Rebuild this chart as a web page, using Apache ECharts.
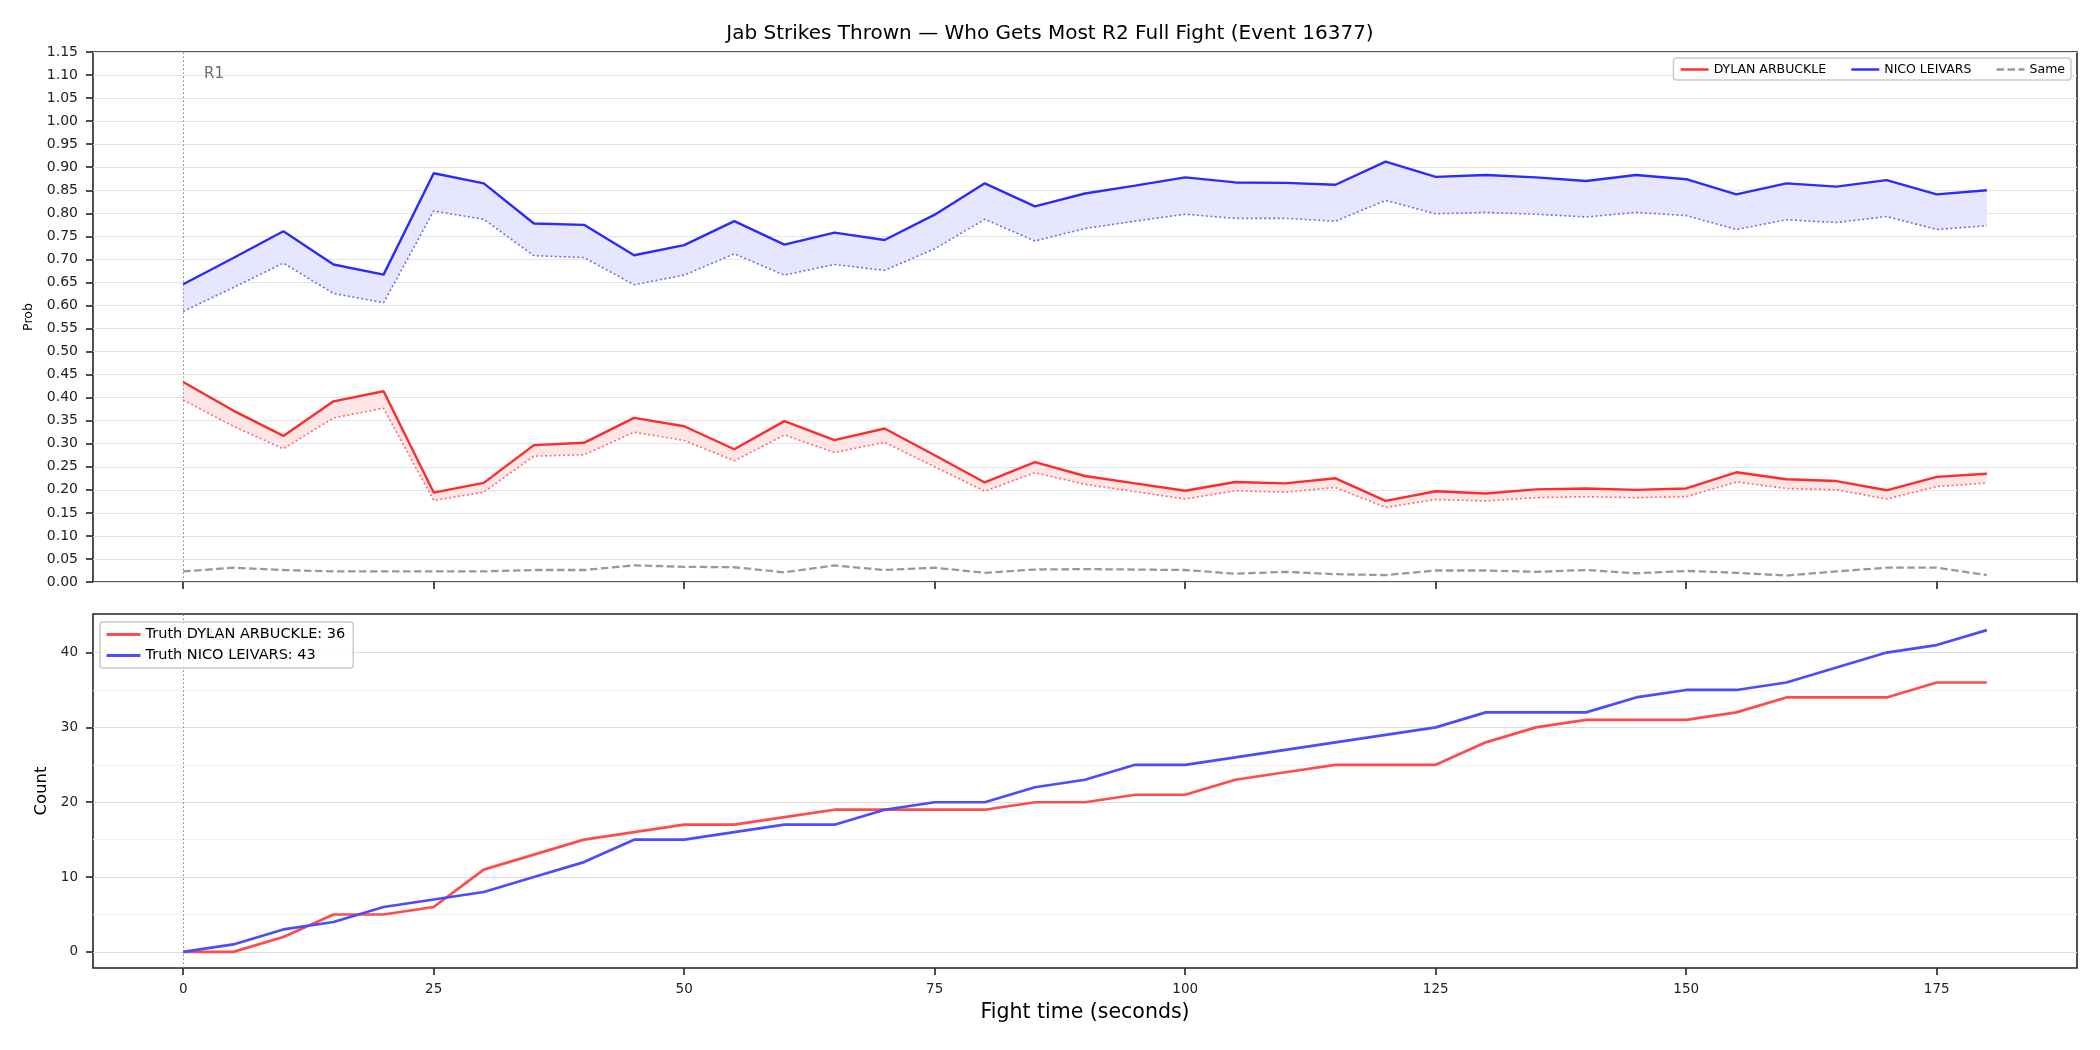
<!DOCTYPE html>
<html>
<head>
<meta charset="utf-8">
<script src="https://cdn.jsdelivr.net/npm/echarts@6/dist/echarts.min.js"></script>
<style>
  html, body { margin: 0; padding: 0; background: #fff; }
  #chart { width: 2100px; height: 1050px; }
</style>
</head>
<body>
<div id="chart"></div>
<script>
// fight time (s)
const times = [0, 5, 10, 15, 20, 25, 30, 35, 40, 45, 50, 55, 60, 65, 70, 75, 80, 85, 90,
  95, 100, 105, 110, 115, 120, 125, 130, 135, 140, 145, 150, 155, 160, 165, 170, 175, 180]

// win probability, upper line and lower (dotted) bound
const nicoProb = [0.646, 0.703, 0.761, 0.689, 0.667, 0.887, 0.865, 0.778, 0.775, 0.709, 0.731,
  0.783, 0.732, 0.758, 0.742, 0.797, 0.865, 0.815, 0.843, 0.860, 0.878, 0.867, 0.866, 0.862,
  0.912, 0.879, 0.883, 0.878, 0.870, 0.883, 0.874, 0.841, 0.865, 0.858, 0.872, 0.841, 0.850]
const nicoLow = [0.587, 0.639, 0.692, 0.626, 0.606, 0.805, 0.787, 0.708, 0.704, 0.645, 0.666,
  0.712, 0.666, 0.689, 0.676, 0.723, 0.787, 0.740, 0.767, 0.783, 0.798, 0.789, 0.789, 0.783,
  0.828, 0.799, 0.802, 0.798, 0.792, 0.802, 0.795, 0.765, 0.786, 0.780, 0.793, 0.765, 0.773]
const dylanProb = [0.434, 0.372, 0.317, 0.392, 0.414, 0.194, 0.215, 0.297, 0.302, 0.356, 0.338,
  0.288, 0.349, 0.308, 0.333, 0.275, 0.216, 0.260, 0.230, 0.214, 0.198, 0.217, 0.214, 0.225,
  0.176, 0.197, 0.192, 0.201, 0.203, 0.200, 0.203, 0.238, 0.223, 0.219, 0.199, 0.228, 0.235]
const dylanLow = [0.395, 0.338, 0.289, 0.356, 0.377, 0.177, 0.195, 0.273, 0.276, 0.325, 0.307,
  0.263, 0.319, 0.281, 0.303, 0.250, 0.197, 0.237, 0.212, 0.196, 0.180, 0.198, 0.195, 0.205,
  0.162, 0.179, 0.176, 0.183, 0.185, 0.183, 0.185, 0.217, 0.203, 0.200, 0.180, 0.207, 0.215]
const sameProb = [0.023, 0.031, 0.026, 0.023, 0.023, 0.023, 0.023, 0.026, 0.026, 0.036, 0.033,
  0.032, 0.021, 0.036, 0.026, 0.031, 0.020, 0.027, 0.028, 0.027, 0.026, 0.018, 0.022, 0.017,
  0.015, 0.025, 0.025, 0.022, 0.026, 0.019, 0.024, 0.020, 0.014, 0.023, 0.031, 0.031, 0.015]

// cumulative truth counts
const dylanCount = [0, 0, 2, 5, 5, 6, 11, 13, 15, 16, 17, 17, 18, 19, 19, 19, 19, 20, 20, 21, 21,
  23, 24, 25, 25, 25, 28, 30, 31, 31, 31, 32, 34, 34, 34, 36, 36]
const nicoCount = [0, 1, 3, 4, 6, 7, 8, 10, 12, 15, 15, 16, 17, 17, 19, 20, 20, 22, 23, 25, 25,
  26, 27, 28, 29, 30, 32, 32, 32, 34, 35, 35, 36, 38, 40, 41, 43]

// axis ticks
const xTicks = [0, 25, 50, 75, 100, 125, 150, 175]
const countTicks = [0, 10, 20, 30, 40]
const countMinor = [5, 15, 25, 35]

const RED = '#ff2b2b'
const BLUE = '#2b2bff'
const FONT = 'DejaVu Sans'

const pairs = (ys) => times.map((t, i) => [t, ys[i]])

const chart = echarts.init(document.getElementById('chart'))

const tickStyle = { show: true, inside: false, length: 7, lineStyle: { color: '#222', width: 1.6 } }
const noLine = { show: false, onZero: false }

// shaded band between the lower bound and the line, drawn as one polygon
const band = (low, up, color) => ({
  type: 'custom', xAxisIndex: 0, yAxisIndex: 0, silent: true, z: 1,
  data: [[0, 0]],
  renderItem: (params, api) => {
    const top = times.map((t, i) => api.coord([t, up[i]]))
    const bottom = times.map((t, i) => api.coord([t, low[i]])).reverse()
    return { type: 'polygon', shape: { points: top.concat(bottom) }, style: { fill: color } }
  }
})

const r1Line = {
  silent: true, symbol: ['none', 'none'], label: { show: false }, z: 2,
  lineStyle: { color: '#888', type: [1.5, 2.5], width: 1 },
  data: [{ xAxis: 0 }]
}

const option = {
  backgroundColor: '#fff',
  animation: false,
  textStyle: { fontFamily: FONT },
  title: {
    text: 'Jab Strikes Thrown — Who Gets Most R2 Full Fight (Event 16377)',
    left: 'center', top: 19,
    textStyle: { fontFamily: FONT, fontSize: 20, fontWeight: 'normal', color: '#000' }
  },
  legend: [
    {
      data: ['DYLAN ARBUCKLE', 'NICO LEIVARS', 'Same'],
      right: 29, top: 58, orient: 'horizontal',
      itemWidth: 28, itemHeight: 10, itemGap: 24,
      padding: [5, 6, 4, 6],
      itemStyle: { opacity: 0 },
      lineStyle: { width: 2.4 },
      backgroundColor: 'rgba(255,255,255,0.8)', borderColor: '#cccccc', borderWidth: 1.5, borderRadius: 3,
      textStyle: { fontFamily: FONT, fontSize: 12.5, color: '#000' }
    },
    {
      data: ['Truth DYLAN ARBUCKLE: 36', 'Truth NICO LEIVARS: 43'],
      left: 100, top: 622, orient: 'vertical',
      itemWidth: 34, itemHeight: 10, itemGap: 6,
      padding: [5, 8, 5, 5],
      itemStyle: { opacity: 0 },
      lineStyle: { width: 3 },
      backgroundColor: 'rgba(255,255,255,0.8)', borderColor: '#cccccc', borderWidth: 1.5, borderRadius: 3,
      textStyle: { fontFamily: FONT, fontSize: 14.5, color: '#000' },
      z: 6
    }
  ],
  grid: [
    { left: 93, top: 52, width: 1984, height: 530, show: true, borderColor: '#222', borderWidth: 1.6 },
    { left: 93, top: 614, width: 1984, height: 354, show: true, borderColor: '#222', borderWidth: 1.6 }
  ],
  xAxis: [
    {
      gridIndex: 0, type: 'value', min: -9, max: 189,
      axisLine: noLine,
      axisTick: Object.assign({ customValues: xTicks }, tickStyle),
      axisLabel: { show: false },
      splitLine: { show: false }
    },
    {
      gridIndex: 1, type: 'value', min: -9, max: 189,
      name: 'Fight time (seconds)', nameLocation: 'middle', nameGap: 34,
      nameTextStyle: { fontFamily: FONT, fontSize: 20.5, color: '#000' },
      axisLine: noLine,
      axisTick: Object.assign({ customValues: xTicks }, tickStyle),
      axisLabel: { customValues: xTicks, margin: 14, fontSize: 13.5, color: '#222', fontFamily: FONT },
      splitLine: { show: false }
    }
  ],
  yAxis: [
    {
      gridIndex: 0, type: 'value', min: 0, max: 1.15, interval: 0.05,
      name: 'Prob', nameLocation: 'middle', nameGap: 58,
      nameTextStyle: { fontFamily: FONT, fontSize: 12.5, color: '#000' },
      axisLine: noLine,
      axisTick: tickStyle,
      axisLabel: {
        margin: 15, fontSize: 14, color: '#222', fontFamily: FONT,
        formatter: (v) => v.toFixed(2)
      },
      splitLine: { show: true, lineStyle: { color: '#e4e4e4', width: 1 } }
    },
    {
      gridIndex: 1, type: 'value', min: -2.15, max: 45.15,
      name: 'Count', nameLocation: 'middle', nameGap: 42,
      nameTextStyle: { fontFamily: FONT, fontSize: 16.5, color: '#000' },
      axisLine: noLine,
      axisTick: Object.assign({ customValues: countTicks }, tickStyle),
      axisLabel: { customValues: countTicks, margin: 15, fontSize: 13.5, color: '#222', fontFamily: FONT },
      splitLine: { show: false }
    }
  ],
  graphic: [
    {
      type: 'text', left: 204, top: 67, z: 10,
      style: { text: 'R1', fontFamily: FONT, fontSize: 15, fill: '#6e6e6e' }
    },
    {
      type: 'text', left: 204, top: 629, z: 1,
      style: { text: 'R1', fontFamily: FONT, fontSize: 15, fill: '#6e6e6e' }
    }
  ],
  series: [
    band(nicoLow, nicoProb, '#e6e6ff'),
    band(dylanLow, dylanProb, '#ffe6e6'),
    {
      name: 'nico low', type: 'line', data: pairs(nicoLow), symbol: 'none', z: 3, silent: true,
      lineStyle: { color: '#6b6bff', width: 1.6, type: [2, 2.5] }
    },
    {
      name: 'dylan low', type: 'line', data: pairs(dylanLow), symbol: 'none', z: 3, silent: true,
      lineStyle: { color: '#ff6b6b', width: 1.6, type: [2, 2.5] }
    },
    {
      name: 'DYLAN ARBUCKLE', type: 'line', data: pairs(dylanProb), symbol: 'none', z: 4,
      itemStyle: { color: RED },
      lineStyle: { color: RED, width: 2.4 },
      markLine: r1Line
    },
    {
      name: 'NICO LEIVARS', type: 'line', data: pairs(nicoProb), symbol: 'none', z: 4,
      itemStyle: { color: BLUE },
      lineStyle: { color: BLUE, width: 2.4 }
    },
    {
      name: 'Same', type: 'line', data: pairs(sameProb), symbol: 'none', z: 4,
      itemStyle: { color: '#999' },
      lineStyle: { color: '#999', width: 2.3, type: [7.5, 3.5] }
    },
    {
      // gridlines and round marker for the count panel
      name: 'count grid', type: 'line', xAxisIndex: 1, yAxisIndex: 1, data: [], z: 1, silent: true,
      markLine: {
        silent: true, symbol: ['none', 'none'], label: { show: false }, z: 1,
        data: [
          ...countTicks.map((v) => ({ yAxis: v, lineStyle: { color: '#dedede', width: 1, type: 'solid' } })),
          ...countMinor.map((v) => ({ yAxis: v, lineStyle: { color: '#efefef', width: 1, type: 'solid' } })),
          { xAxis: 0, lineStyle: { color: '#888', type: [1.5, 2.5], width: 1 } }
        ]
      }
    },
    {
      name: 'Truth DYLAN ARBUCKLE: 36', type: 'line', xAxisIndex: 1, yAxisIndex: 1,
      data: pairs(dylanCount), symbol: 'none', z: 4,
      itemStyle: { color: '#ff4b4b' },
      lineStyle: { color: '#ff4b4b', width: 2.7 }
    },
    {
      name: 'Truth NICO LEIVARS: 43', type: 'line', xAxisIndex: 1, yAxisIndex: 1,
      data: pairs(nicoCount), symbol: 'none', z: 4,
      itemStyle: { color: '#4b4bff' },
      lineStyle: { color: '#4b4bff', width: 2.7 }
    }
  ]
}

chart.setOption(option)
</script>
</body>
</html>
